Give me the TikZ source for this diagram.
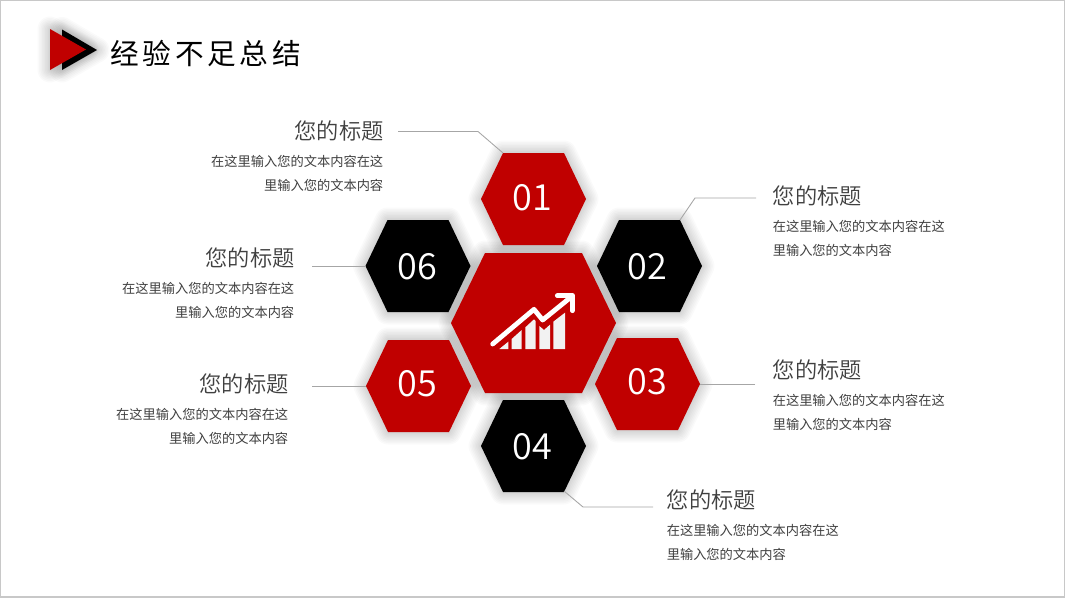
\documentclass[tikz,border=0pt]{standalone}
\usepackage{fontspec}
\setmainfont{Noto Sans CJK SC}
\newfontfamily\headfont[LetterSpace=13]{Noto Sans CJK SC}
\newfontfamily\digitfont[UprightFont={* DemiLight}]{Noto Sans CJK SC}
\newfontfamily\labelfont[UprightFont={* DemiLight}]{Noto Sans CJK SC}
\definecolor{hexred}{HTML}{C00000}
\definecolor{txt}{HTML}{404040}
\definecolor{leader}{HTML}{A6A6A6}
\definecolor{framegray}{HTML}{C8C8C8}
\newcommand\hexdef[5]{% name cx cy halfw halfh ; inset is fixed by \hexinset
  \coordinate (#1-c) at (#2,#3);
  \coordinate (#1-w) at ({#2-#4},#3);
  \coordinate (#1-e) at ({#2+#4},#3);
  \coordinate (#1-tl) at ({#2-#4+\hexinset},{#3-#5});
  \coordinate (#1-tr) at ({#2+#4-\hexinset},{#3-#5});
  \coordinate (#1-bl) at ({#2-#4+\hexinset},{#3+#5});
  \coordinate (#1-br) at ({#2+#4-\hexinset},{#3+#5});
}
\newcommand\hexoutline[1]{(#1-w) -- (#1-tl) -- (#1-tr) -- (#1-e) -- (#1-br) -- (#1-bl) -- cycle}
\newcommand\softshadow[1]{%
  \foreach \lw in {1,4,...,25}{
    \draw[shadowlayer,line width=\lw*0.75pt,shift={(3,5)}] #1;
  }
}
\tikzset{
  x=0.75pt,y=-0.75pt,
  shadowlayer/.style={draw=black,draw opacity=0.02,line join=round},
  leaderline/.style={draw=leader,line width=0.65pt},
  hextext/.style={text=white,font=\digitfont\fontsize{27}{27}\selectfont,inner sep=0pt},
  headtext/.style={text=txt,font=\labelfont\fontsize{16.7}{20}\selectfont,inner sep=0pt},
  bodytext/.style={text=txt,font=\fontsize{9.93}{18}\selectfont,inner sep=0pt},
  bodyleft/.style={bodytext,align=left,anchor=west},
  bodyright/.style={bodytext,align=right,anchor=east},
  iconbar/.style={fill=white!95!black,draw=none},
}
\begin{document}
\begin{tikzpicture}
\useasboundingbox (0,0) rectangle (1067,600);
\fill[white] (0,0) rectangle (1067,600);
\draw[framegray,line width=1pt] (0.5,0.5) rectangle (1064.5,597);

% hexagon geometry
\def\hexinset{22}
\hexdef{h1}{533.5}{199}{52.5}{46}
\hexdef{h2}{649.5}{266}{52.5}{46}
\hexdef{h3}{647.5}{384}{52.5}{46}
\hexdef{h4}{533.5}{446}{52.5}{46}
\hexdef{h5}{418.5}{386}{52.5}{46}
\hexdef{h6}{418}{266}{52.5}{46}
\def\hexinset{34}
\hexdef{hc}{533.5}{323}{82.5}{70}

% logo
\coordinate (la) at (50,29); \coordinate (lb) at (50,70); \coordinate (lc) at (86,49.5);
\coordinate (ld) at (62,29.5); \coordinate (le) at (62,70); \coordinate (lf) at (97,50);
\softshadow{(ld) -- (lf) -- (le) -- cycle}
\softshadow{(la) -- (lc) -- (lb) -- cycle}
\fill[black] (ld) -- (lf) -- (le) -- cycle;
\fill[hexred] (la) -- (lc) -- (lb) -- cycle;
\node[anchor=west,inner sep=0pt,text=black,font=\headfont\fontsize{21.5}{25}\selectfont] (maintitle) at (110,54) {经验不足总结};

% shadows
\foreach \h in {h1,h2,h3,h4,h5,h6,hc}{ \softshadow{\hexoutline{\h}} }

% hexagons
\fill[hexred] \hexoutline{hc};
\fill[hexred] \hexoutline{h1};
\fill[black]  \hexoutline{h2};
\fill[hexred] \hexoutline{h3};
\fill[black]  \hexoutline{h4};
\fill[hexred] \hexoutline{h5};
\fill[black]  \hexoutline{h6};
\node[hextext] (n1) at (532,198) {01};
\node[hextext] (n2) at (647,267) {02};
\node[hextext] (n3) at (647,382) {03};
\node[hextext] (n4) at (532,447) {04};
\node[hextext] (n5) at (417,384) {05};
\node[hextext] (n6) at (417,267) {06};

% icon
\begin{scope}[shift={(440,240)},x=0.25pt,y=-0.25pt]
  \fill[iconbar] (178,327) -- (205,305) -- (205,327) -- cycle;
  \fill[iconbar] (215,327) -- (215,297) -- (245,270) -- (245,327) -- cycle;
  \fill[iconbar] (256,327) -- (256,262) -- (282,238) -- (287,243) -- (287,327) -- cycle;
  \fill[iconbar] (298,327) -- (298,258) -- (312,270) -- (330,254) -- (330,327) -- cycle;
  \fill[iconbar] (340,327) -- (340,245) -- (375,218) -- (375,327) -- cycle;
  \draw[white,line width=3.6pt,line cap=round,line join=round] (158,312) -- (282,208) -- (308,240) -- (392,172);
  \draw[white,line width=3.6pt,line cap=round,line join=round] (352,167) -- (397,167) -- (397,212);
\end{scope}

% leaders
\coordinate (s1) at (398,131.5); \coordinate (e1) at (478,131.5);
\coordinate (s2) at (756,198); \coordinate (e2) at (695,198);
\coordinate (s3) at (755,384);
\coordinate (s4) at (653,507); \coordinate (e4) at (583,507);
\coordinate (s5) at (312,386);
\coordinate (s6) at (312,266);
\draw[leaderline] (s1) -- (e1) -- (h1-tl);
\draw[leaderline] (s2) -- (e2) -- (680,220);
\draw[leaderline] (s3) -- (h3-e);
\draw[leaderline] (s4) -- (e4) -- (564,491);
\draw[leaderline] (s5) -- (h5-w);
\draw[leaderline] (s6) -- (h6-w);

% labels
\node[headtext,anchor=east] (t1) at (384,131) {您的标题};
\node[bodyright] (b1) at (383.5,173) {在这里输入您的文本内容在这\\里输入您的文本内容};
\node[headtext,anchor=west] (t2) at (772.5,196) {您的标题};
\node[bodyleft] (b2) at (772.5,238) {在这里输入您的文本内容在这\\里输入您的文本内容};
\node[headtext,anchor=west] (t3) at (772.5,370) {您的标题};
\node[bodyleft] (b3) at (772.5,412) {在这里输入您的文本内容在这\\里输入您的文本内容};
\node[headtext,anchor=west] (t4) at (666.5,500) {您的标题};
\node[bodyleft] (b4) at (666.5,542) {在这里输入您的文本内容在这\\里输入您的文本内容};
\node[headtext,anchor=east] (t5) at (289,384) {您的标题};
\node[bodyright] (b5) at (288.5,426) {在这里输入您的文本内容在这\\里输入您的文本内容};
\node[headtext,anchor=east] (t6) at (295,258) {您的标题};
\node[bodyright] (b6) at (294.5,300) {在这里输入您的文本内容在这\\里输入您的文本内容};
\end{tikzpicture}
\end{document}
